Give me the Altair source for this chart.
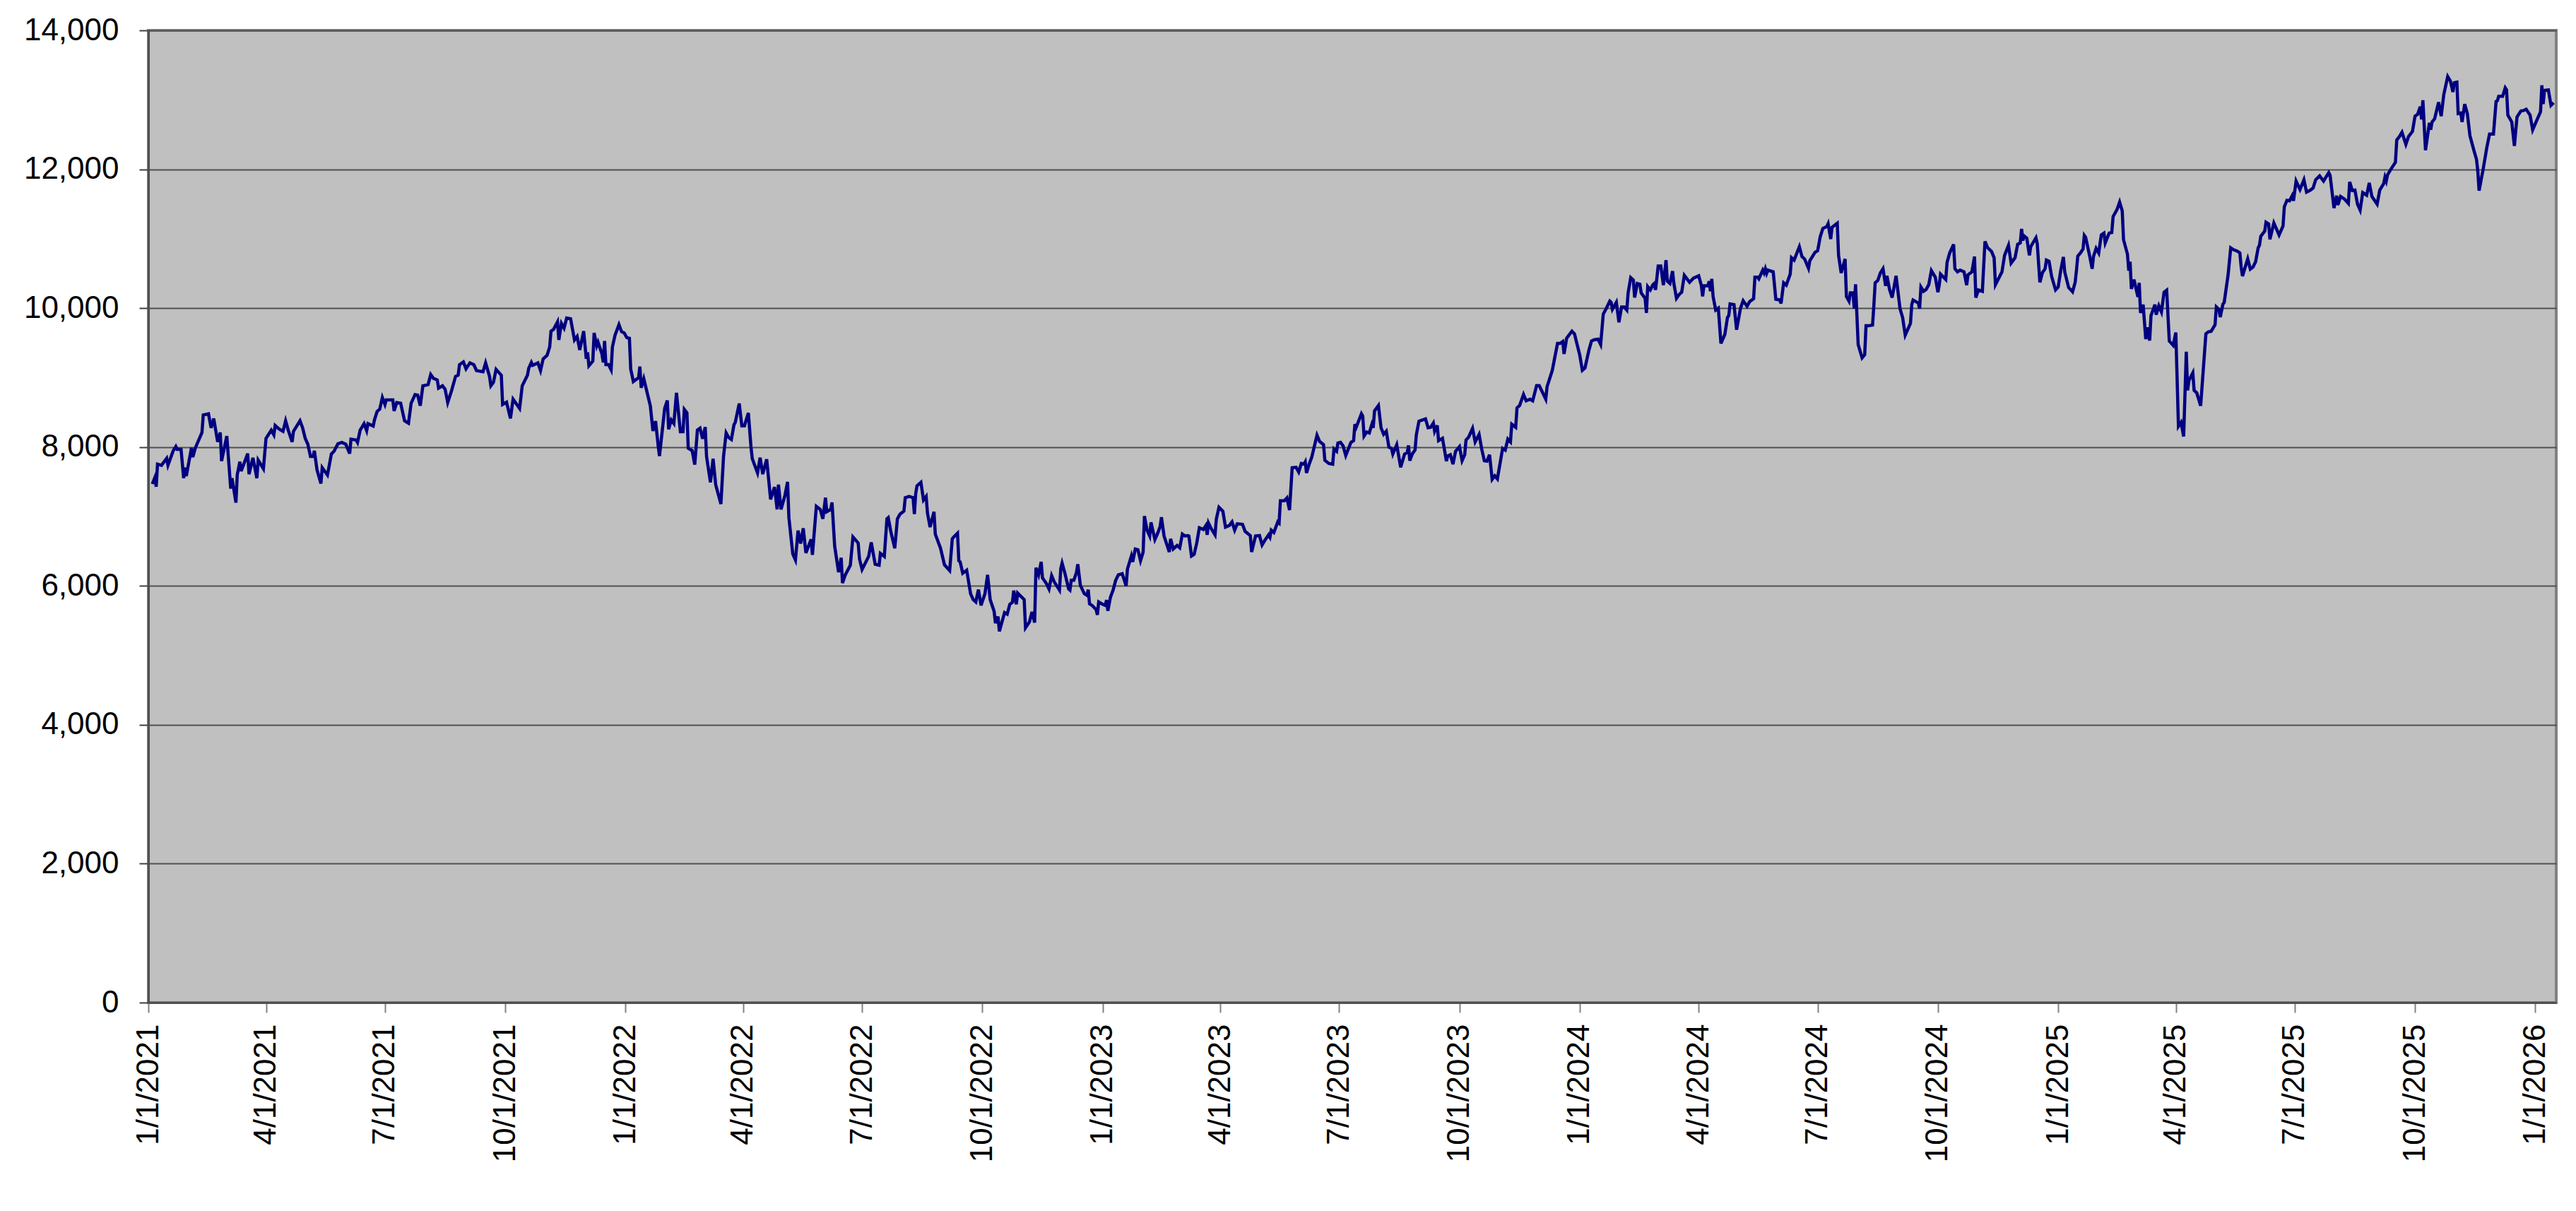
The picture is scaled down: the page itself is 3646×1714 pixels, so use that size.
import altair as alt
import pandas as pd

# (days since 2021-01-01, value), per segment
seg_2021 = [(3,7468),(5,7562),(6,7428),(7,7754),(10,7737),(12,7788),(14,7838),(15,7737),(19,7946),(21,8007),
(22,7966),(25,7966),(27,7552),(28,7704),(29,7582),(33,7990),(34,7855),(36,7990),(41,8209),(42,8461),
(46,8478),(48,8276),(50,8411),(53,8074),(55,8209),(56,7798),(60,8158),(63,7401),(64,7552),(67,7199),
(68,7603),(70,7788),(71,7653),(76,7906),(77,7609),(80,7845),(83,7552),(84,7811),(88,7687),(90,8125),
(94,8242),(96,8175),(97,8310),(100,8259),(103,8226),(105,8377),(107,8242),(110,8074),(111,8226),(116,8377),
(118,8276),(120,8125),(122,8040),(124,7865),(126,7865),(127,7946),(129,7670),(132,7475),(133,7704),(137,7596),
(140,7899),(142,7939),(145,8047),(148,8067),(151,8040),(154,7906),(155,8114),(159,8101),(160,8067),(162,8242),
(165,8337),(167,8236),(168,8337),(172,8303),(173,8394),(175,8512),(177,8545),(179,8714),(181,8613),(182,8680),
(187,8680),(188,8519),(190,8640),(193,8630),(196,8377),(199,8343),(201,8630),(204,8754),(206,8747),(208,8596),
(210,8882),(214,8899),(216,9044),(218,8990),(221,8966),(222,8848),(225,8882),(227,8832),(229,8640),(232,8815),
(235,9017),(237,9034),(238,9185),(241,9226),(243,9125),(246,9212),(249,9185),(251,9101),(256,9084),(258,9212),
(261,9017),(262,8882),(264,8933),(266,9118),(270,9034),(271,8613),(274,8646),(277,8411),(279,8690),(284,8556),
(286,8882),(290,9034),(291,9135),(293,9219),(294,9178),(298,9212),(300,9101),(302,9269),(305,9320)]

seg_2022 = [(307,9441),(308,9668),(310,9695),(313,9803),(314,9542),(316,9780),(318,9712),(320,9858),(323,9848),
(326,9542),(328,9593),(330,9397),(333,9668),(335,9271),(336,9363),(337,9170),(340,9237),(341,9644),(343,9458),
(344,9509),(347,9339),(348,9220),(349,9526),(350,9187),(352,9187),(354,9112),(355,9441),(357,9611),(360,9763),
(362,9661),(364,9644),(366,9576),(368,9566),(369,9119),(370,9034),(371,8942),(375,9000),(376,9159),(377,8854),
(379,8983),(384,8593),(386,8231),(388,8373),(390,8017),(391,7871),(395,8559),(397,8671),(398,8254),(400,8390),
(402,8339),(404,8780),(407,8220),(409,8220),(410,8542),(412,8492),(413,7983),(416,7949),(418,7746),(420,8244),
(422,8271),(424,8119),(426,8288),(427,7864),(430,7492),(432,7831),(434,7458),(438,7180),(440,7864),(442,8203),
(444,8136),(446,8108),(448,8322),(449,8356),(452,8627),(454,8305),(456,8305),(459,8492),(461,8000),(462,7831),
(466,7627),(468,7847),(470,7610),(473,7824),(476,7247),(479,7424),(481,7102),(482,7458),(484,7102),(487,7305),
(489,7498),(490,6983),(493,6458),(495,6373),(497,6797),(499,6610),(501,6830),(503,6475),(507,6671),(508,6447),
(511,7146),(514,7102),(516,6966),(518,7271),(519,7068),(522,7102),(523,7203),(525,6576),(528,6197),(530,6407),
(531,6041),(533,6153),(537,6298),(539,6705),(543,6617),(544,6390),(546,6237),(551,6424),(553,6627),(556,6312),
(559,6298),(560,6468),(563,6424),(565,6966),(566,6983),(568,6780),(571,6542),(573,6966),(575,7034),(578,7078),
(579,7271),(582,7288),(585,7271),(586,7034),(587,7329),(588,7441),(591,7492),(593,7237),(595,7288),(596,7051),
(598,6847),(601,7068),(602,6746),(606,6542),(609,6305),(613,6220),(615,6678)]

seg_2023 = [(616,6702),(619,6759),(620,6363),(621,6346),(623,6183),(626,6227),(629,5888),(631,5803),(633,5769),
(635,5946),(637,5719),(640,5888),(642,6159),(644,5803),(647,5634),(648,5464),(650,5559),(651,5346),(653,5481),
(655,5617),(657,5593),(659,5736),(661,5763),(662,5932),(664,5736),(665,5898),(670,5803),(671,5397),(674,5481),
(676,5627),(678,5471),(679,6261),(681,6159),(683,6346),(684,6115),(687,6034),(689,5956),(691,6149),(693,6058),
(697,5939),(698,6251),(699,6329),(701,6193),(704,5956),(705,5939),(706,6081),(708,6081),(710,6193),(711,6312),
(713,6007),(716,5888),(718,5864),(719,5946),(720,5742),(722,5719),(725,5661),(726,5583),(727,5769),(730,5736),
(732,5719),(733,5797),(734,5641),(736,5837),(738,5939),(740,6081),(742,6159),(745,6176),(748,6000),(749,6244),
(752,6431),(753,6346),(755,6532),(757,6522),(759,6363),(761,6488),(762,7007),(764,6803),(766,6719),(767,6915),
(770,6668),(772,6753),(774,6854),(775,6990),(777,6719),(781,6488),(782,6678),(784,6532),(787,6583),(789,6549),
(791,6746),(793,6719),(795,6725),(796,6719),(798,6431),(800,6454),(802,6617),(804,6837),(807,6813),(809,6871),
(810,6736),(811,6905),(813,6827),(816,6736),(817,6963),(819,7132),(822,7075),(824,6847),(827,6871),(829,6922),
(831,6803),(833,6895),(837,6888),(839,6786),(843,6725),(844,6488),(847,6719),(850,6725),(852,6590),(854,6654),
(857,6736),(858,6702),(859,6803),(861,6770),(864,6922),(865,6905),(866,7227),(869,7227),(871,7268),(873,7092),
(875,7702),(878,7709),(880,7641),(882,7763),(884,7753),(885,7787),(886,7627),(888,7753),(890,7854),(894,8170),
(896,8081),(899,8034),(900,7810),(903,7763),(906,7753),(907,7973),(909,7939),(910,8058),(912,8068),(914,8014),
(916,7878),(920,8068),(922,8092),(923,8329)]

seg_2024a = [(924,8284),(928,8480),(929,8446),(930,8159),(932,8216),(934,8203),(936,8328),(937,8277),(938,8520),
(941,8598),(943,8277),(945,8182),(947,8226),(949,8000),(951,7980),(952,7899),(955,8034),(958,7709),(961,7899),
(963,7922),(964,8024),(965,7804),(967,7905),(969,7956),(970,8176),(972,8372),(977,8405),(979,8277),(981,8284),
(983,8345),(984,8226),(986,8311),(987,8091),(990,8125),(993,7797),(994,7872),(996,7889),(998,7753),(1000,7939),
(1003,8007),(1005,7804),(1007,7889),(1008,8101),(1010,8142),(1013,8270),(1015,8074),(1018,8182),(1020,7973),
(1022,7804),(1024,7797),(1026,7889),(1028,7534),(1030,7585),(1032,7540),(1036,7980),(1038,7956),(1040,8115),
(1042,8074),(1043,8328),(1046,8284),(1047,8564),(1049,8598),(1052,8757),(1054,8666),(1057,8689),(1059,8666),
(1062,8885),(1064,8885),(1067,8767),(1069,8689),(1070,8868),(1074,9105),(1078,9493),(1080,9493),(1082,9520),
(1083,9341),(1085,9567),(1089,9669),(1091,9628),(1095,9324),(1097,9105),(1099,9139),(1102,9392),(1104,9527),
(1106,9544),(1109,9554),(1111,9476),(1113,9916),(1115,9983),(1118,10101),(1119,10084),(1120,9983),(1123,10084),
(1125,9797),(1127,10017),(1129,10017),(1131,9973),(1132,10219),(1134,10439),(1136,10405),(1137,10152),
(1139,10355),(1141,10345),(1142,10219),(1145,10142),(1146,9932),(1147,10311),(1149,10263),(1151,10338),
(1152,10355),(1153,10263),(1155,10608),(1157,10608),(1159,10331),(1161,10692),(1162,10388),(1164,10355),
(1166,10534),(1167,10355),(1169,10142),(1171,10196),(1173,10230),(1175,10473),(1179,10372),(1182,10432),
(1186,10466),(1188,10331),(1189,10169),(1190,10321),(1193,10321),(1194,10388),(1195,10243),(1196,10422),
(1197,10169),(1199,9973),(1201,10000),(1203,9493),(1206,9621),(1208,9865),(1209,9892),(1210,10061),(1213,10051),
(1215,9689),(1218,10000),(1220,10108),(1223,10027),(1225,10094),(1228,10135),(1229,10446),(1231,10446)]

seg_2024b = [(1232,10422),(1235,10547),(1236,10507),(1237,10567),(1238,10500),(1239,10547),(1243,10523),
(1245,10128),(1248,10118),(1249,10067),(1251,10365),(1253,10331),(1256,10490),(1257,10726),(1259,10692),
(1263,10885),(1265,10743),(1267,10709),(1270,10574),(1271,10682),(1275,10804),(1277,10827),(1279,11030),
(1281,11148),(1284,11175),(1285,11216),(1287,10996),(1288,11165),(1292,11223),(1293,10760),(1295,10507),
(1298,10709),(1299,10169),(1301,10101),(1302,10219),(1304,10219),(1305,9993),(1306,10344),(1308,9476),
(1311,9284),(1313,9331),(1314,9746),(1316,9746),(1319,9757),(1320,10040),(1321,10365),(1323,10398),
(1325,10507),(1327,10567),(1329,10321),(1330,10466),(1332,10270),(1334,10152),(1337,10466),(1340,9993),
(1342,9865),(1344,9611),(1348,9780),(1349,10051),(1350,10118),(1354,10074),(1355,9993),(1356,10304),
(1358,10243),(1360,10270),(1362,10338),(1364,10540),(1367,10446),(1369,10230),(1370,10331),(1371,10490),
(1375,10412),(1376,10659),(1378,10794),(1381,10919),(1382,10567),(1384,10523),(1386,10547),(1389,10523),
(1391,10331),(1392,10480),(1395,10523),(1397,10743),(1398,10152),(1400,10263),(1403,10243),(1405,10963),
(1407,10871),(1410,10817),(1412,10726),(1413,10338),(1415,10412),(1418,10523),(1420,10760),(1423,10905),
(1425,10648),(1428,10726),(1430,10919),(1432,10939),(1433,11142),(1434,10973),(1435,11040),(1437,11007),
(1439,10760),(1440,10885),(1444,11013),(1445,10929),(1447,10371),(1449,10513),(1451,10567),(1452,10692),
(1454,10675),(1456,10456),(1459,10263),(1461,10304),(1463,10547),(1465,10736),(1466,10523),(1469,10297),
(1472,10236),(1474,10371),(1475,10547),(1476,10750),(1478,10794),(1480,10851),(1481,11047),(1482,11020),
(1485,10760),(1487,10567),(1488,10743),(1490,10861),(1492,10794),(1494,11054),(1496,11081),(1497,10939),
(1500,11081),(1502,11088),(1503,11317),(1506,11419),(1508,11527),(1510,11402),(1511,10986),(1514,10777),
(1515,10540),(1516,10669),(1517,10277),(1519,10412),(1522,10162),(1523,10365),(1524,9932),(1526,10051),
(1528,9554),(1529,9723),(1531,9534),(1532,9892),(1535,10051),(1536,9905),(1538,10034)]

seg_2025 = [(1540,9945),(1542,10229),(1544,10259),(1546,9527),(1549,9464),(1551,9649),(1553,8299),(1555,8355),
(1557,8152),(1559,9372),(1560,8817),(1561,8957),(1564,9068),(1565,8817),(1567,8780),(1570,8595),(1572,9113),
(1574,9630),(1576,9660),(1578,9667),(1581,9760),(1582,10018),(1584,9982),(1585,9871),(1587,10055),(1588,10081),
(1591,10481),(1593,10869),(1595,10843),(1598,10821),(1600,10795),(1601,10592),(1602,10462),(1606,10710),
(1608,10562),(1610,10592),(1612,10665),(1614,10869),(1615,10906),(1616,11035),(1619,11109),(1620,11238),
(1622,11213),(1623,10991),(1626,11227),(1630,11054),(1633,11183),(1634,11460),(1636,11553),(1638,11545),
(1640,11619),(1641,11545),(1643,11830),(1646,11708),(1649,11849),(1651,11671),(1654,11700),(1656,11730),
(1658,11849),(1661,11904),(1664,11830),(1668,11952),(1669,11915),(1672,11442),(1674,11619),(1675,11486),
(1677,11608),(1680,11571),(1683,11508),(1684,11819),(1686,11693),(1688,11700),(1690,11497),(1692,11412),
(1694,11664),(1697,11627),(1699,11804),(1701,11608),(1705,11497),(1707,11700),(1710,11793),(1711,11885),
(1712,11830),(1713,11922),(1716,12015),(1719,12100),(1720,12422),(1722,12470),(1724,12533),(1727,12359),
(1729,12470),(1732,12544),(1734,12765),(1736,12791),(1738,12902),(1739,12717),(1740,12995),(1742,12274),
(1745,12669),(1746,12569),(1747,12680),(1749,12728),(1752,12965),(1754,12765),(1756,13076),(1759,13335),
(1761,13272),(1763,13113),(1764,13246),(1766,13254),(1767,12802),(1769,12810),(1770,12680),(1772,12939),
(1774,12802),(1776,12484),(1779,12274),(1781,12144),(1782,11978),(1783,11693),(1786,11989),(1789,12322),
(1791,12507),(1794,12507),(1796,12976),(1797,12987),(1798,13050),(1801,13050),(1803,13172),(1804,13143),
(1805,12780),(1808,12680),(1810,12337),(1812,12754),(1815,12839),(1817,12846),(1819,12865),(1822,12780),
(1824,12569),(1827,12699),(1830,12828),(1831,13209),(1832,12939),(1833,13135),(1836,13143),(1838,12921),
(1840,12958)]

y_ticks = [0, 2000, 4000, 6000, 8000, 10000, 12000, 14000]
tick_years = [2021, 2022, 2023, 2024, 2025]
tick_months = [1, 4, 7, 10]

rows = seg_2021 + seg_2022 + seg_2023 + seg_2024a + seg_2024b + seg_2025
start = pd.Timestamp("2021-01-01")
df = pd.DataFrame({
    "date": [(start + pd.Timedelta(days=d)).strftime("%Y-%m-%dT00:00:00") for d, _ in rows],
    "value": [v for _, v in rows],
})

x_values = [alt.DateTime(year=y, month=m, date=1) for y in tick_years for m in tick_months]
x_values.append(alt.DateTime(year=2026, month=1, date=1))

FONT = "Liberation Sans"

chart = alt.Chart(df).mark_line(color="#000080", strokeWidth=4.5).encode(
    x=alt.X("date:T",
            scale=alt.Scale(domain=[alt.DateTime(year=2021, month=1, date=1),
                                    alt.DateTime(year=2026, month=1, date=17)], nice=False),
            axis=alt.Axis(values=x_values, format="%-m/%-d/%Y", labelAngle=270,
                          title=None, grid=False, tickSize=14, tickColor="#808080",
                          tickWidth=2, domainColor="#505050", domainWidth=3,
                          labelFontSize=44, labelFont=FONT, labelColor="black",
                          labelPadding=16, labelOverlap=False, labelFlush=False,
                          labelLimit=1000)),
    y=alt.Y("value:Q",
            scale=alt.Scale(domain=[0, 14000], nice=False),
            axis=alt.Axis(values=y_ticks, format=",d", title=None, grid=True,
                          gridColor="#505050", gridWidth=2, tickSize=13,
                          tickColor="#404040", tickWidth=2, domainColor="#505050",
                          domainWidth=3, labelFontSize=44, labelFont=FONT,
                          labelColor="black", labelPadding=29, labelOverlap=False,
                          labelFlush=False, labelLimit=1000)),
).properties(
    width=3408,
    height=1376,
    padding={"left": 202, "top": 35, "right": 12, "bottom": 270},
    autosize=alt.AutoSizeParams(type="none"),
    background="white",
).configure_view(
    fill="#C0C0C0", stroke="#808080", strokeWidth=4,
)

chart.save("out.html", embed_options={"renderer": "svg", "actions": False})
